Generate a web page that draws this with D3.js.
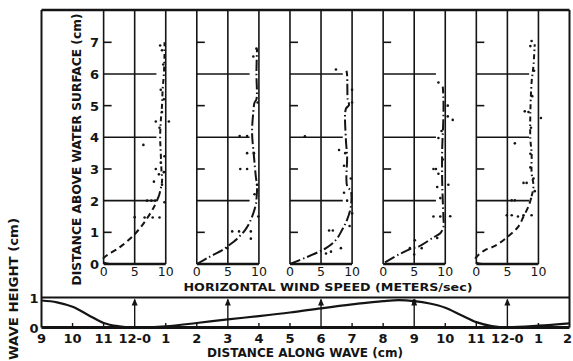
<!DOCTYPE html>
<html><head><meta charset="utf-8">
<script src="https://cdn.jsdelivr.net/npm/d3@7"></script>
<style>
html,body{margin:0;padding:0;background:#fff;}
text{font-family:"DejaVu Sans",sans-serif;fill:#141414;}
</style></head><body>
<script>
// ---- data ----
const waveDist   = [9, 9.5, 10, 10.5, 11, 11.5, 12, 13, 14, 15, 16, 17, 18, 19, 20, 20.5, 21, 21.5, 22, 22.5, 23, 23.5, 24, 25, 26];
const waveHeight = [0.9, 0.84, 0.69, 0.42, 0.15, 0.04, 0.0, 0.04, 0.15, 0.27, 0.38, 0.5, 0.64, 0.77, 0.88, 0.91, 0.88, 0.8, 0.66, 0.42, 0.18, 0.05, 0.01, 0.06, 0.14];
const distTicks  = [9,10,11,12,13,14,15,16,17,18,19,20,21,22,23,24,25,26];
const distLabels = ["9","10","11","12-0","1","2","3","4","5","6","7","8","9","10","11","12-0","1","2"];
const profileCenters = [12, 15, 18, 21, 24];   // 0, 3, 6, 9, 12 cm along wave
const speedTicks  = [0, 5, 10];
const heightTicks = [0, 1, 2, 3, 4, 5, 6, 7];
const gridHeights = [2, 4, 6];
const minorHeights = [1, 3, 5, 7];
const waveHeightTicks = [0, 1];

// profile 1 (0 cm)
const p1Lower = [[1.0,0.0],[0.1,0.05],[-0.1,0.16],[0.5,0.27],[2.4,0.5],[4.7,0.88],[6.5,1.3],[8.1,1.8],[8.9,2.15]];
const p1Upper = [[8.9,2.15],[9.4,2.6],[9.3,3.0],[9.2,3.5],[9.1,4.0],[9.2,4.5],[9.4,5.0],[9.5,5.5],[9.7,6.0],[9.8,6.6],[9.8,7.0]];
const p1Dots  = [[5.0,1.48],[6.6,1.47],[7.9,1.47],[9.0,1.47],[6.4,3.76],[7.0,2.0],[7.7,2.0],[8.3,2.0],[9.8,1.95],[8.1,2.6],[9.4,2.5],[8.9,2.83],[9.7,2.9],[8.4,3.0],[9.2,3.2],[9.8,3.4],[8.4,4.5],[10.5,4.5],[9.4,4.8],[9.7,5.2],[9.2,5.5],[9.4,6.75],[9.1,6.9],[9.6,6.3],[9.0,4.3]];
// profile 2 (3 cm)
const p2Curve = [[0,0],[2.0,0.22],[4.1,0.44],[4.9,0.55],[6.5,0.8],[7.8,1.08],[8.6,1.35],[9.5,1.87],[9.6,2.03],[9.7,2.45],[9.5,2.77],[9.2,3.4],[8.9,4.15],[9.1,4.8],[9.3,5.1],[9.6,5.2],[9.6,6.05],[9.7,6.8]];
const p2Dots  = [[6.9,4.04],[8.1,4.04],[8.1,3.5],[9.2,3.5],[7.0,3.0],[8.1,3.0],[9.7,2.5],[5.7,1.03],[6.8,1.03],[8.7,1.03],[8.7,0.8],[4.9,0.5],[9.8,5.1],[9.1,6.55],[9.6,6.8],[9.3,2.2],[9.9,1.5]];
// profile 3 (6 cm)
const p3Curve = [[0,0],[2.5,0.2],[4.7,0.39],[5.8,0.5],[7.4,0.76],[8.4,1.08],[9.2,1.4],[9.8,1.82],[9.8,2.3],[9.2,2.46],[9.2,3.4],[9.0,3.94],[9.0,4.9],[9.5,5.02],[9.3,5.2],[9.2,5.96],[9.1,6.1]];
const p3Dots  = [[10.0,5.5],[10.0,5.1],[7.9,3.6],[8.9,3.5],[8.7,3.1],[8.7,2.25],[9.2,2.0],[10.0,1.6],[6.3,1.06],[6.9,1.06],[8.2,0.5],[6.6,0.39],[5.8,0.33],[2.4,4.03],[7.4,6.14],[9.8,2.7],[9.6,1.2]];
// profile 4 (9 cm)
const p4Curve = [[0.3,0.05],[2.5,0.3],[4.6,0.49],[5.7,0.55],[8.1,0.84],[9.2,0.97],[9.7,1.17],[9.7,1.49],[9.6,2.0],[9.5,2.64],[9.5,3.58],[9.7,4.63],[9.7,5.26],[9.6,5.6]];
const p4Dots  = [[8.9,5.73],[10.4,5.0],[11.2,4.55],[10.4,4.66],[8.9,3.98],[8.1,3.0],[8.5,3.0],[8.9,2.85],[10.5,2.5],[8.7,2.43],[9.2,2.08],[9.2,1.5],[10.8,1.51],[8.1,1.5],[8.7,0.82],[5.1,0.75],[4.3,0.5],[5.0,0.3],[6.2,0.5],[9.6,3.3],[9.4,4.2]];
// profile 5 (12 cm)
const p5Lower = [[0.9,0.0],[0.0,0.05],[-0.2,0.15],[0.3,0.28],[1.4,0.44],[3.0,0.57],[5.1,0.87],[6.8,1.19],[7.6,1.5],[8.4,1.82],[8.9,2.14]];
const p5Upper = [[8.9,2.14],[9.2,2.46],[8.9,2.88],[8.9,3.51],[8.7,3.94],[8.7,4.79],[8.9,5.74],[9.2,6.27],[9.4,6.94]];
const p5Dots  = [[8.9,7.04],[8.7,6.88],[9.3,6.1],[7.8,4.82],[8.4,4.8],[10.4,4.61],[6.2,3.81],[8.7,3.48],[8.7,3.05],[7.6,2.56],[8.1,2.56],[9.4,2.3],[9.2,2.7],[5.7,2.01],[6.2,2.01],[4.9,1.54],[5.7,1.54],[7.6,1.54],[8.9,1.54],[6.7,1.5],[9.0,5.3],[8.8,4.3]];

const profiles = [
  {segs:[{pts:p1Lower,dash:"6,4"},{pts:p1Upper,dash:"5,3,1.5,3"}], dots:p1Dots},
  {segs:[{pts:p2Curve,dash:"11,3,1.5,3"}], dots:p2Dots},
  {segs:[{pts:p3Curve,dash:"11,3,1.5,3"}], dots:p3Dots},
  {segs:[{pts:p4Curve,dash:"11,3,1.5,3"}], dots:p4Dots},
  {segs:[{pts:p5Lower,dash:"6,4"},{pts:p5Upper,dash:"5,3,1.5,3"}], dots:p5Dots}
];

// ---- drawing ----
const W = 573, H = 361;
const INK = "#141414";
const svg = d3.select("body").append("svg").attr("width", W).attr("height", H);

const xWave = d3.scaleLinear().domain([9, 26]).range([41.5, 569.5]);
const yWave = d3.scaleLinear().domain([0, 1]).range([327.5, 297.5]);
const yProf = d3.scaleLinear().domain([0, 7]).range([264, 42.3]);
const frameTop = 10;

// frame
const g = svg.append("g").attr("stroke", INK).attr("fill", "none");
g.append("line").attr("x1", xWave(9)).attr("x2", xWave(26)).attr("y1", frameTop).attr("y2", frameTop).attr("stroke-width", 2.4);
g.append("line").attr("x1", xWave(9)).attr("x2", xWave(9)).attr("y1", frameTop).attr("y2", yWave(0)).attr("stroke-width", 2);
g.append("line").attr("x1", xWave(26)).attr("x2", xWave(26)).attr("y1", frameTop).attr("y2", yWave(0)).attr("stroke-width", 2);
g.append("line").attr("x1", xWave(9)).attr("x2", xWave(26)).attr("y1", yWave(1)).attr("y2", yWave(1)).attr("stroke-width", 2);
g.append("line").attr("x1", xWave(9)).attr("x2", xWave(26)).attr("y1", yWave(0)).attr("y2", yWave(0)).attr("stroke-width", 3.2);

// profile panels
profileCenters.forEach((c, i) => {
  const xs = d3.scaleLinear().domain([0, 10]).range([xWave(c - 1), xWave(c + 1)]);
  const pg = svg.append("g").attr("stroke", INK).attr("fill", "none");
  speedTicks.forEach(s => {
    pg.append("line").attr("x1", xs(s)).attr("x2", xs(s)).attr("y1", frameTop).attr("y2", yProf(0)).attr("stroke-width", 1.6);
  });
  pg.append("line").attr("x1", xs(0)).attr("x2", xs(10)).attr("y1", yProf(0)).attr("y2", yProf(0)).attr("stroke-width", 2.6);
  gridHeights.forEach(h => {
    pg.append("line").attr("x1", xs(0)).attr("x2", xs(8.5)).attr("y1", yProf(h)).attr("y2", yProf(h)).attr("stroke-width", 1.6);
  });
  minorHeights.forEach(h => {
    pg.append("line").attr("x1", xs(0)).attr("x2", xs(0) + 8).attr("y1", yProf(h)).attr("y2", yProf(h)).attr("stroke-width", 1.6);
  });
  const line = d3.line().x(d => xs(d[0])).y(d => yProf(d[1])).curve(d3.curveCatmullRom.alpha(0.5));
  profiles[i].segs.forEach(s => {
    pg.append("path").attr("d", line(s.pts)).attr("stroke-width", 2).attr("stroke-dasharray", s.dash);
  });
  svg.append("g").selectAll("circle").data(profiles[i].dots).join("circle")
    .attr("cx", d => xs(d[0])).attr("cy", d => yProf(d[1])).attr("r", 1.3).attr("fill", INK);
  // speed tick labels
  svg.append("g").selectAll("text").data(speedTicks).join("text")
    .attr("x", d => xs(d)).attr("y", 275.5).attr("text-anchor", "middle")
    .attr("font-size", 12.5).text(d => d);
  if (i === 0) {
    svg.append("g").selectAll("text").data(heightTicks).join("text")
      .attr("x", xs(0) - 9).attr("y", d => yProf(d) + 5).attr("text-anchor", "middle")
      .attr("font-size", 13).attr("font-weight", "bold").text(d => d);
  }
});

// wave panel
const wg = svg.append("g");
const waveData = waveDist.map((d, i) => [d, waveHeight[i]]);
wg.append("path").attr("d", d3.line().x(d => xWave(d[0])).y(d => yWave(d[1])).curve(d3.curveMonotoneX)(waveData))
  .attr("fill", "none").attr("stroke", INK).attr("stroke-width", 2.2);
distTicks.filter(t => t > 9 && t < 26 && !profileCenters.includes(t)).forEach(t => {
  wg.append("line").attr("x1", xWave(t)).attr("x2", xWave(t)).attr("y1", yWave(0)).attr("y2", yWave(0) - 4.5)
    .attr("stroke", INK).attr("stroke-width", 1.4);
});
profileCenters.forEach(c => {
  const x = xWave(c);
  wg.append("line").attr("x1", x).attr("x2", x).attr("y1", yWave(0)).attr("y2", yWave(1) + 2).attr("stroke", INK).attr("stroke-width", 1.4);
  wg.append("path").attr("d", `M${x},${yWave(1) + 1}L${x - 3},${yWave(1) + 8}L${x + 3},${yWave(1) + 8}Z`).attr("fill", INK);
});
const peakIdx = waveDist.indexOf(21);
wg.append("circle").attr("cx", xWave(21)).attr("cy", yWave(waveHeight[peakIdx]) + 0.5).attr("r", 2.4).attr("fill", INK);

// bottom tick labels
svg.append("g").selectAll("text").data(distTicks).join("text")
  .attr("x", (d) => xWave(d) - (d === 26 ? 2 : 0)).attr("y", 343).attr("text-anchor", "middle")
  .attr("font-size", 13).attr("font-weight", "bold").text((d, i) => distLabels[i]);
svg.append("g").selectAll("text").data(waveHeightTicks).join("text")
  .attr("x", 34).attr("y", d => yWave(d) + 5).attr("text-anchor", "middle")
  .attr("font-size", 13).attr("font-weight", "bold").text(d => d);

// titles
svg.append("text").attr("x", 328).attr("y", 290.5).attr("text-anchor", "middle").attr("font-size", 11).attr("font-weight", "bold")
  .attr("textLength", 289).attr("lengthAdjust", "spacingAndGlyphs").text("HORIZONTAL WIND SPEED (METERS/sec)");
svg.append("text").attr("x", 305).attr("y", 357).attr("text-anchor", "middle").attr("font-size", 12.5).attr("font-weight", "bold")
  .attr("textLength", 196).attr("lengthAdjust", "spacingAndGlyphs").text("DISTANCE ALONG WAVE (cm)");
svg.append("text").attr("transform", "translate(81,149.5) rotate(-90)").attr("text-anchor", "middle").attr("font-size", 12.5).attr("font-weight", "bold")
  .attr("textLength", 272).attr("lengthAdjust", "spacingAndGlyphs").text("DISTANCE ABOVE WATER SURFACE (cm)");
svg.append("text").attr("transform", "translate(18,289) rotate(-90)").attr("text-anchor", "middle").attr("font-size", 13).attr("font-weight", "bold")
  .attr("textLength", 142).attr("lengthAdjust", "spacingAndGlyphs").text("WAVE HEIGHT (cm)");
</script>
</body></html>
